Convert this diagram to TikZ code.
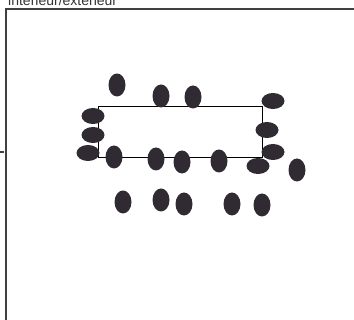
\documentclass[tikz,border=0pt]{standalone}
\usepackage{fontspec}
\setmainfont{Liberation Sans}
\usetikzlibrary{shapes.geometric, positioning}
\definecolor{blobcol}{RGB}{48,42,50}

\begin{document}
\begin{tikzpicture}[
    x=1pt, y=-1pt,
    frame/.style={draw=black!75, line width=1.4pt},
    blobv/.style={ellipse, fill=blobcol, inner sep=0pt,
                  minimum width=17pt, minimum height=23pt},
    blobh/.style={ellipse, fill=blobcol, inner sep=0pt,
                  minimum width=23pt, minimum height=16pt}
  ]
  \useasboundingbox (0,0) rectangle (354,320);

  % Title and outer frame
  \node[anchor=base west, font=\fontsize{14}{14}\selectfont, text=black!80,
        inner sep=0pt] (title) at (8,5.5) {interieur/exterieur};
  \draw[frame] (6,330) -- (6,9) -- (360,9);
  \draw[black!75, line width=1.2pt] (0,152) -- (4,152);

  % Inner rectangle
  \node[draw, line width=0.9pt, minimum width=164pt, minimum height=51pt,
        inner sep=0pt] (box) at (180,131.5) {};

  % Vertical blobs
  \foreach \x/\y [count=\i] in {117/85, 161/96, 193/97, 114/157, 156/159,
                               182/162, 219/161, 297/170, 123/202, 161/200,
                               184/204, 232/204, 262/205}
    \node[blobv] (v\i) at (\x,\y) {};

  % Horizontal blobs
  \foreach \x/\y [count=\i] in {273/101, 93/116, 93/135, 88/153, 267/130,
                               273/152, 258/166}
    \node[blobh] (h\i) at (\x,\y) {};
\end{tikzpicture}
\end{document}
